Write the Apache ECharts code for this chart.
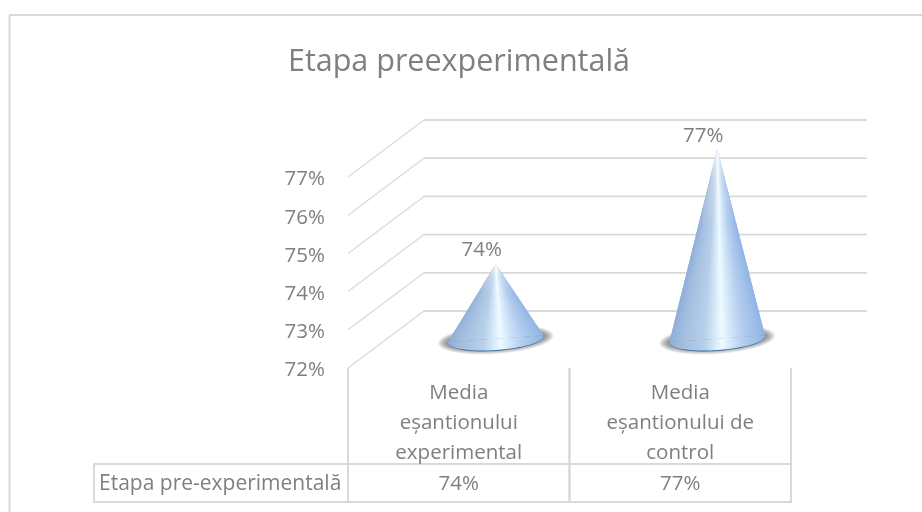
<!DOCTYPE html>
<html>
<head>
<meta charset="utf-8">
<style>
  html, body { margin: 0; padding: 0; background: #fff; }
  #chart { width: 922px; height: 512px; }
</style>
<script src="https://cdn.jsdelivr.net/npm/echarts@6/dist/echarts.min.js"></script>
</head>
<body>
<div id="chart"></div>
<script>
const titleText = 'Etapa preexperimentală'
const categories = ['Media\neșantionului\nexperimental', 'Media\neșantionului de\ncontrol']
const seriesName = 'Etapa pre-experimentală'
const values = [74, 77]
const yTicks = [72, 73, 74, 75, 76, 77]

const fontName = '"Open Sans", "Noto Sans", sans-serif'
const textColor = '#7f7f7f'
const lineColor = '#d9d9d9'
const depthX = 76 // deplasarea peretelui din spate
const depthY = 57
const wallEnd = 867
const tableTop = 464
const tableBottom = 502
const tableLeft = 94
const baseRx = 48
const baseRy = 11.5
const baseTilt = 0.07
// umbrirea conului de la stanga la dreapta
const coneStops = [
  { offset: 0, color: '#8fadd6' },
  { offset: 0.12, color: '#a2bcdf' },
  { offset: 0.36, color: '#b6cfe9' },
  { offset: 0.47, color: '#d4e9f7' },
  { offset: 0.55, color: '#eefbff' },
  { offset: 0.64, color: '#d2e7f8' },
  { offset: 0.78, color: '#b2ccef' },
  { offset: 1, color: '#90b3e4' }
]

const chart = echarts.init(document.getElementById('chart'))

// liniile de grila: oblic pe podea, apoi orizontal pe peretele din spate
function renderWall(params, api) {
  const p = api.coord([0, api.value(1)])
  const x0 = params.coordSys.x
  const y = p[1]
  return {
    type: 'group',
    children: [
      { type: 'line', shape: { x1: x0, y1: y, x2: x0 + depthX, y2: y - depthY }, style: { stroke: lineColor, lineWidth: 1.2 } },
      { type: 'line', shape: { x1: x0 + depthX - 0.5, y1: y - depthY, x2: wallEnd, y2: y - depthY }, style: { stroke: lineColor, lineWidth: 1.8 } }
    ]
  }
}

// conul: umbra, inelul bazei, corpul din benzi cu gradient propriu
function renderCone(params, api) {
  const idx = api.value(0)
  const val = api.value(1)
  const base = api.coord([idx, 72])
  const top = api.coord([idx, val])
  const cx = base[0] + depthX / 2 - 1
  const cy = base[1] - depthY / 2
  const tipY = top[1] - depthY / 2 + 1
  const c = Math.cos(baseTilt)
  const s = Math.sin(baseTilt)
  const pt = (t, rx, ry) => {
    const ex = rx * Math.cos(t)
    const ey = ry * Math.sin(t)
    return [cx + ex * c + ey * s, cy - ex * s + ey * c]
  }
  const ellipse = (rx, ry) => {
    const pts = []
    for (let i = 0; i <= 80; i++) {
      pts.push(pt(i * Math.PI / 40, rx, ry))
    }
    return pts
  }
  const children = []
  // umbra difuza din elipse suprapuse
  for (let i = 10; i >= 0; i--) {
    children.push({
      type: 'polygon',
      shape: { points: ellipse(baseRx + i, baseRy - 3 + i * 0.6) },
      style: { fill: 'rgba(50,50,50,0.07)' }
    })
  }
  children.push({ type: 'polygon', shape: { points: ellipse(baseRx, baseRy) }, style: { fill: '#3f6f9f' } })

  const gap = 0.08
  const right = pt(-gap, baseRx, baseRy - 1)
  const left = pt(Math.PI + gap, baseRx, baseRy - 1)
  // partea de jos a bazei
  const arc = []
  for (let i = 0; i <= 60; i++) {
    arc.push(pt(-gap + (Math.PI + 2 * gap) * i / 60, baseRx, baseRy - 1))
  }
  children.push({
    type: 'polygon',
    shape: { points: arc },
    style: { fill: new echarts.graphic.LinearGradient(left[0], 0, right[0], 0, coneStops, true) }
  })
  // benzile corpului
  const tip = [cx, tipY]
  const bands = Math.round(cy - tipY)
  const along = (p, v) => [tip[0] + (p[0] - tip[0]) * v, tip[1] + (p[1] - tip[1]) * v]
  for (let k = 0; k < bands; k++) {
    const v1 = k / bands
    const v2 = Math.min(1, (k + 2.5) / bands)
    const l2 = along(left, v2)
    const r2 = along(right, v2)
    children.push({
      type: 'polygon',
      shape: { points: [along(left, v1), along(right, v1), r2, l2] },
      style: { fill: new echarts.graphic.LinearGradient(l2[0], 0, r2[0] + 0.01, 0, coneStops, true) }
    })
  }
  // varful se topeste in alb
  children.push({
    type: 'polygon',
    shape: { points: [tip, along(right, 0.45), along(left, 0.45)] },
    style: {
      fill: new echarts.graphic.LinearGradient(0, tipY, 0, cy, [
        { offset: 0, color: 'rgba(255,255,255,0.85)' },
        { offset: 0.15, color: 'rgba(255,255,255,0.3)' },
        { offset: 0.4, color: 'rgba(255,255,255,0)' }
      ], true)
    }
  })
  children.push({
    type: 'text',
    style: {
      x: cx - 14,
      y: tipY - 3,
      text: val + '%',
      fill: textColor,
      font: '20.5px ' + fontName,
      align: 'center',
      verticalAlign: 'bottom'
    }
  })
  return { type: 'group', children: children }
}

// tabelul de date de sub grafic
function renderTable(params, api) {
  const idx = api.value(0)
  const cs = params.coordSys
  const w = cs.width / categories.length
  const x1 = cs.x + idx * w
  const x2 = x1 + w
  return {
    type: 'group',
    children: [
      { type: 'line', shape: { x1: x1, y1: cs.y + cs.height, x2: x1, y2: tableBottom }, style: { stroke: lineColor, lineWidth: 2 } },
      { type: 'line', shape: { x1: x2, y1: cs.y + cs.height, x2: x2, y2: tableBottom }, style: { stroke: lineColor, lineWidth: 2 } },
      {
        type: 'text',
        style: {
          x: (x1 + x2) / 2,
          y: (tableTop + tableBottom) / 2 + 1,
          text: api.value(1) + '%',
          fill: textColor,
          font: '20.5px ' + fontName,
          align: 'center',
          verticalAlign: 'middle'
        }
      }
    ]
  }
}

chart.setOption({
  animation: false,
  backgroundColor: '#fff',
  title: {
    text: titleText,
    left: 454,
    top: 42,
    textAlign: 'center',
    textStyle: { color: textColor, fontSize: 30.5, fontWeight: 'normal', fontFamily: fontName }
  },
  grid: { left: 348, top: 177, width: 443, height: 191 },
  xAxis: {
    type: 'category',
    data: categories,
    axisLine: { show: false },
    axisTick: { show: false },
    axisLabel: {
      color: textColor,
      fontSize: 20.5,
      fontFamily: fontName,
      lineHeight: 30,
      margin: 8,
      padding: [2, 0, 0, 0],
      interval: 0
    }
  },
  yAxis: {
    type: 'value',
    min: 72,
    max: 77,
    interval: 1,
    axisLine: { show: false },
    axisTick: { show: false },
    splitLine: { show: false },
    axisLabel: {
      margin: 23,
      formatter: '{t|{value}%}',
      rich: {
        t: { color: textColor, fontSize: 20.5, fontFamily: fontName, padding: [5, 0, 0, 0] }
      }
    }
  },
  graphic: [
    { type: 'line', shape: { x1: 9.5, y1: 15, x2: 922, y2: 15 }, style: { stroke: lineColor, lineWidth: 2 } },
    { type: 'line', shape: { x1: 9.5, y1: 15, x2: 9.5, y2: 512 }, style: { stroke: lineColor, lineWidth: 2 } },
    { type: 'rect', shape: { x: tableLeft, y: tableTop, width: 791 - tableLeft, height: tableBottom - tableTop }, style: { fill: 'none', stroke: lineColor, lineWidth: 2 } },
    { type: 'text', style: { x: 99, y: (tableTop + tableBottom) / 2 + 1, text: seriesName, fill: textColor, font: '21px ' + fontName, verticalAlign: 'middle' } }
  ],
  series: [
    { type: 'custom', renderItem: renderWall, data: yTicks.map((t) => [0, t]), encode: { x: 0, y: 1 }, silent: true, z: 1 },
    { type: 'custom', renderItem: renderCone, data: values.map((v, i) => [i, v]), encode: { x: 0, y: 1 }, clip: false, z: 3 },
    { type: 'custom', renderItem: renderTable, data: values.map((v, i) => [i, v]), encode: { x: 0 }, clip: false, z: 2 }
  ]
})
</script>
</body>
</html>
